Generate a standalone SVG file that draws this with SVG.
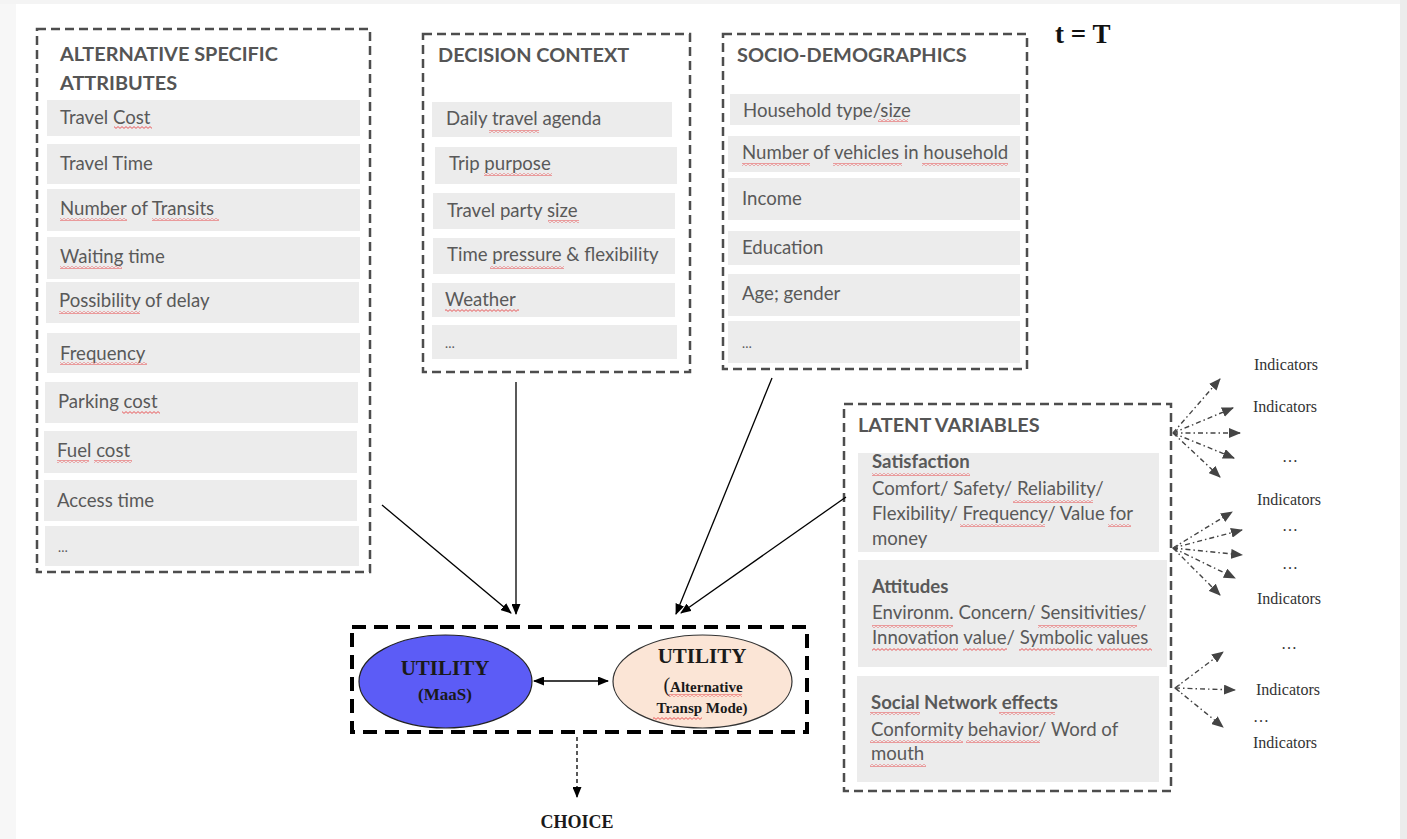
<svg xmlns="http://www.w3.org/2000/svg" width="1407" height="839" viewBox="0 0 1407 839">
<defs>
<style>
.bg{fill:#fff}
.frame{fill:none;stroke:#4d4d4d;stroke-width:2.5;stroke-dasharray:9 5}
.row{fill:#ececec}
.it{font-family:Lato,'Liberation Sans',sans-serif;font-size:18.6px;fill:#595959}
.ttl{font-family:Lato,'Liberation Sans',sans-serif;font-size:19.9px;font-weight:bold;fill:#555}
.sub{font-family:Lato,'Liberation Sans',sans-serif;font-size:18.6px;font-weight:bold;fill:#595959}
.sq{fill:url(#wv)}
.ser{font-family:'Liberation Serif','Times New Roman',serif;fill:#1a1a1a}
.ind{font-family:'Liberation Serif',serif;font-size:16px;fill:#333}
.con{fill:none;stroke:#000;stroke-width:1.3}
.fan{fill:none;stroke:#444;stroke-width:1.4;stroke-dasharray:5 3 1.5 3}
</style>
<pattern id="wv" patternUnits="userSpaceOnUse" x="0" y="0" width="4" height="3"><path d="M0,2.4 L2,0.6 L4,2.4" fill="none" stroke="#e8474a" stroke-width="0.9"/></pattern>
<marker id="ah" markerUnits="userSpaceOnUse" markerWidth="11" markerHeight="9" refX="10" refY="4.5" orient="auto-start-reverse"><path d="M0,0 L11,4.5 L0,9 z" fill="#000"/></marker>
<marker id="fh" markerUnits="userSpaceOnUse" markerWidth="12" markerHeight="10" refX="11" refY="5" orient="auto"><path d="M0,0 L12,5 L0,10 z" fill="#444"/></marker>
<marker id="fs" markerUnits="userSpaceOnUse" markerWidth="8" markerHeight="8" refX="1" refY="4" orient="auto"><path d="M6,0.5 L1,4 L6,7.5" fill="none" stroke="#555" stroke-width="1"/></marker>
</defs>
<rect class="bg" x="0" y="0" width="1407" height="839"/>
<rect x="0" y="0" width="16" height="839" fill="#f7f7f7"/>
<rect x="0" y="0" width="1407" height="4" fill="#f4f4f4"/>
<rect x="1400" y="0" width="7" height="839" fill="#ececec"/>

<g id="alt-attributes">
<rect class="frame" x="37" y="29" width="333" height="543"/>
<text class="ttl" x="60" y="61">ALTERNATIVE SPECIFIC</text>
<text class="ttl" x="60" y="90">ATTRIBUTES</text>
<rect class="row" x="47" y="100" width="313" height="36"/><text class="it" x="60" y="124">Travel Cost</text>
<rect class="row" x="47" y="144" width="313" height="40"/><text class="it" x="60" y="170">Travel Time</text>
<rect class="row" x="47" y="189" width="313" height="42"/><text class="it" x="60" y="215">Number of Transits</text>
<rect class="row" x="47" y="237" width="313" height="42"/><text class="it" x="60" y="263">Waiting time</text>
<rect class="row" x="46" y="282" width="313" height="41"/><text class="it" x="59" y="307">Possibility of delay</text>
<rect class="row" x="47" y="333" width="313" height="40"/><text class="it" x="60" y="360">Frequency</text>
<rect class="row" x="45" y="382" width="313" height="41"/><text class="it" x="58" y="408">Parking cost</text>
<rect class="row" x="44" y="431" width="313" height="42"/><text class="it" x="57" y="457">Fuel cost</text>
<rect class="row" x="44" y="480" width="313" height="41"/><text class="it" x="57" y="507">Access time</text>
<rect class="row" x="45" y="526" width="314" height="40"/><text class="it" x="58" y="552" style="font-size:13px">…</text>
</g>

<g id="decision-context">
<rect class="frame" x="423" y="34" width="267" height="338"/>
<text class="ttl" x="438" y="62">DECISION CONTEXT</text>
<rect class="row" x="432" y="102" width="240" height="35"/><text class="it" x="446" y="125">Daily travel agenda</text>
<rect class="row" x="435" y="147" width="242" height="37"/><text class="it" x="449" y="170">Trip purpose</text>
<rect class="row" x="433" y="193" width="242" height="36"/><text class="it" x="447" y="217">Travel party size</text>
<rect class="row" x="433" y="238" width="242" height="36"/><text class="it" x="447" y="261">Time pressure &amp; flexibility</text>
<rect class="row" x="432" y="283" width="243" height="34"/><text class="it" x="445" y="306">Weather</text>
<rect class="row" x="432" y="325" width="245" height="34"/><text class="it" x="445" y="348" style="font-size:13px">…</text>
</g>

<g id="socio-demographics">
<rect class="frame" x="723" y="34" width="304" height="335"/>
<text class="ttl" x="737" y="62">SOCIO-DEMOGRAPHICS</text>
<rect class="row" x="730" y="94" width="290" height="31"/><text class="it" x="743" y="117">Household type/size</text>
<rect class="row" x="728" y="136" width="292" height="36"/><text class="it" x="742" y="159">Number of vehicles in household</text>
<rect class="row" x="728" y="178" width="292" height="42"/><text class="it" x="742" y="205">Income</text>
<rect class="row" x="728" y="231" width="292" height="34"/><text class="it" x="742" y="254">Education</text>
<rect class="row" x="728" y="274" width="292" height="42"/><text class="it" x="742" y="300">Age; gender</text>
<rect class="row" x="728" y="321" width="292" height="42"/><text class="it" x="742" y="348" style="font-size:13px">…</text>
</g>

<g id="time-label">
<text class="ser" x="1055" y="43" style="font-size:27px;font-weight:bold;fill:#111">t = T</text>
</g>

<g id="latent-variables">
<rect class="frame" x="844" y="404" width="327" height="387"/>
<text class="ttl" x="858" y="432">LATENT VARIABLES</text>
<rect class="row" x="858" y="453" width="301" height="99"/>
<text class="sub" x="872" y="468">Satisfaction</text>
<text class="it" x="872" y="495">Comfort/ Safety/ Reliability/</text>
<text class="it" x="872" y="520">Flexibility/ Frequency/ Value for</text>
<text class="it" x="872" y="545">money</text>
<rect class="row" x="858" y="560" width="309" height="107"/>
<text class="sub" x="872" y="593">Attitudes</text>
<text class="it" x="872" y="619">Environm. Concern/ Sensitivities/</text>
<text class="it" x="872" y="644">Innovation value/ Symbolic values</text>
<rect class="row" x="857" y="676" width="302" height="106"/>
<text class="sub" x="871" y="709">Social Network effects</text>
<text class="it" x="871" y="736">Conformity behavior/ Word of</text>
<text class="it" x="871" y="760">mouth</text>
</g>

<g id="indicators">
<text class="ind" x="1254" y="370">Indicators</text>
<text class="ind" x="1253" y="412">Indicators</text>
<text class="ind" x="1282" y="462">…</text>
<text class="ind" x="1257" y="505">Indicators</text>
<text class="ind" x="1282" y="531">…</text>
<text class="ind" x="1282" y="569">…</text>
<text class="ind" x="1257" y="604">Indicators</text>
<text class="ind" x="1281" y="649">…</text>
<text class="ind" x="1256" y="695">Indicators</text>
<text class="ind" x="1253" y="722">…</text>
<text class="ind" x="1253" y="748">Indicators</text>
</g>

<g id="choice-set">
<rect x="352" y="627" width="455" height="105" fill="none" stroke="#000" stroke-width="4" stroke-dasharray="14 8"/>
</g>
<g id="utility-maas">
<ellipse cx="445.5" cy="681.5" rx="86.5" ry="46.5" fill="#5c5cf6" stroke="#222" stroke-width="1.2"/>
<text class="ser" x="445" y="675" text-anchor="middle" style="font-size:21px;font-weight:bold">UTILITY</text>
<text class="ser" x="445" y="700" text-anchor="middle" style="font-size:17px;font-weight:bold">(MaaS)</text>
</g>
<g id="utility-alt">
<ellipse cx="702.5" cy="681.5" rx="89.5" ry="46.5" fill="#fbe5d6" stroke="#333" stroke-width="1.2"/>
<text class="ser" x="702" y="663" text-anchor="middle" style="font-size:21px;font-weight:bold">UTILITY</text>
<text class="ser" x="703" y="692" text-anchor="middle" style="font-size:15px;font-weight:bold"><tspan style="font-size:20px;font-weight:normal">(</tspan>Alternative</text>
<text class="ser" x="702" y="713" text-anchor="middle" style="font-size:15px;font-weight:bold">Transp Mode)</text>
</g>
<g id="choice">
<text class="ser" x="577" y="828" text-anchor="middle" style="font-size:18px;font-weight:bold">CHOICE</text>
</g>

<g id="spellcheck-marks">
<rect class="sq" x="114" y="126" width="38" height="3"/>
<rect class="sq" x="60" y="218" width="67" height="3"/>
<rect class="sq" x="152" y="218" width="67" height="3"/>
<rect class="sq" x="60" y="266" width="62" height="3"/>
<rect class="sq" x="59" y="311" width="81" height="3"/>
<rect class="sq" x="60" y="362" width="87" height="3"/>
<rect class="sq" x="122" y="411" width="38" height="3"/>
<rect class="sq" x="57" y="460" width="32" height="3"/>
<rect class="sq" x="94" y="460" width="38" height="3"/>
<rect class="sq" x="489" y="130" width="50" height="3"/>
<rect class="sq" x="484" y="173" width="68" height="3"/>
<rect class="sq" x="548" y="220" width="31" height="3"/>
<rect class="sq" x="490" y="266" width="74" height="3"/>
<rect class="sq" x="445" y="309" width="74" height="3"/>
<rect class="sq" x="878" y="119" width="30" height="3"/>
<rect class="sq" x="742" y="163" width="68" height="3"/>
<rect class="sq" x="833" y="163" width="69" height="3"/>
<rect class="sq" x="922" y="163" width="86" height="3"/>
<rect class="sq" x="872" y="473" width="98" height="3"/>
<rect class="sq" x="1013" y="500" width="80" height="3"/>
<rect class="sq" x="960" y="524" width="85" height="3"/>
<rect class="sq" x="1108" y="524" width="23" height="3"/>
<rect class="sq" x="872" y="625" width="81" height="3"/>
<rect class="sq" x="1038" y="625" width="99" height="3"/>
<rect class="sq" x="872" y="648" width="86" height="3"/>
<rect class="sq" x="963" y="648" width="44" height="3"/>
<rect class="sq" x="1019" y="648" width="74" height="3"/>
<rect class="sq" x="1096" y="648" width="56" height="3"/>
<rect class="sq" x="870" y="712" width="50" height="3"/>
<rect class="sq" x="999" y="712" width="56" height="3"/>
<rect class="sq" x="870" y="740" width="93" height="3"/>
<rect class="sq" x="966" y="740" width="74" height="3"/>
<rect class="sq" x="870" y="764" width="56" height="3"/>
<rect class="sq" x="668" y="694" width="74" height="3"/>
<rect class="sq" x="653" y="717" width="49" height="3"/>
</g>

<g id="connectors">
<line class="con" x1="382" y1="505" x2="511" y2="613" marker-end="url(#ah)"/>
<line class="con" x1="516" y1="382" x2="516" y2="614" marker-end="url(#ah)"/>
<line class="con" x1="772" y1="378" x2="676" y2="614" marker-end="url(#ah)"/>
<line class="con" x1="846" y1="497" x2="681" y2="613" marker-end="url(#ah)"/>
<line class="con" x1="534" y1="681" x2="608" y2="681" marker-start="url(#ah)" marker-end="url(#ah)" style="stroke-width:1.5"/>
<line class="con" x1="577" y1="737" x2="577" y2="797" marker-end="url(#ah)" style="stroke-dasharray:4 3"/>
<line class="fan" x1="1173" y1="433" x2="1220" y2="379" marker-end="url(#fh)"/>
<line class="fan" x1="1173" y1="433" x2="1233" y2="408" marker-end="url(#fh)"/>
<line class="fan" x1="1173" y1="433" x2="1240" y2="433" marker-start="url(#fs)" marker-end="url(#fh)"/>
<line class="fan" x1="1173" y1="433" x2="1234" y2="458" marker-end="url(#fh)"/>
<line class="fan" x1="1173" y1="433" x2="1220" y2="477" marker-end="url(#fh)"/>
<line class="fan" x1="1173" y1="548" x2="1232" y2="512" marker-end="url(#fh)"/>
<line class="fan" x1="1173" y1="548" x2="1242" y2="530" marker-end="url(#fh)"/>
<line class="fan" x1="1173" y1="548" x2="1242" y2="555" marker-start="url(#fs)" marker-end="url(#fh)"/>
<line class="fan" x1="1173" y1="548" x2="1235" y2="578" marker-end="url(#fh)"/>
<line class="fan" x1="1173" y1="548" x2="1220" y2="595" marker-end="url(#fh)"/>
<line class="fan" x1="1175" y1="688" x2="1223" y2="652" marker-end="url(#fh)"/>
<line class="fan" x1="1175" y1="688" x2="1235" y2="690" marker-start="url(#fs)" marker-end="url(#fh)"/>
<line class="fan" x1="1175" y1="688" x2="1223" y2="727" marker-end="url(#fh)"/>
</g>
</svg>
